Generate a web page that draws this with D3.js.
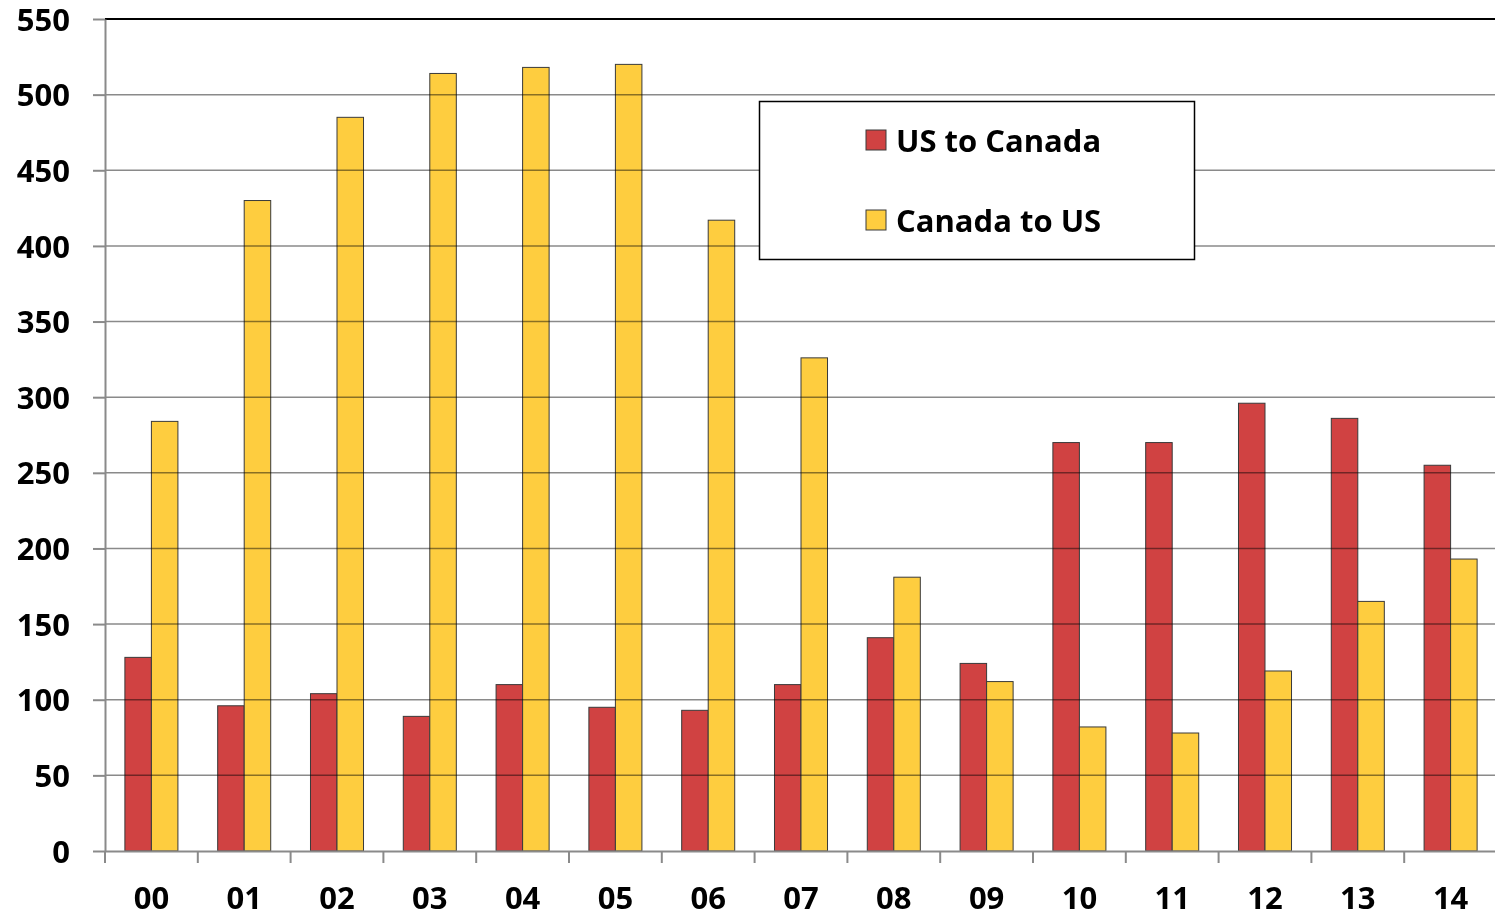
<!DOCTYPE html>
<html lang="en">
<head>
<meta charset="UTF-8">
<title>US / Canada</title>
<script src="https://cdn.jsdelivr.net/npm/d3@7"></script>
<style>
  body { margin: 0; background: #fff; }
  text { font-family: "Open Sans", Lato, sans-serif; font-weight: bold; fill: #000; }
</style>
</head>
<body>
<script>
    const years = ["00","01","02","03","04","05","06","07","08","09","10","11","12","13","14"];
    const usToCanada = [128, 96, 104, 89, 110, 95, 93, 110, 141, 124, 270, 270, 296, 286, 255];
    const canadaToUs = [284, 430, 485, 514, 518, 520, 417, 326, 181, 112, 82, 78, 119, 165, 193];
    const seriesNames = ["US to Canada", "Canada to US"];
    const yTicks = [0, 50, 100, 150, 200, 250, 300, 350, 400, 450, 500, 550];

    const colors = ["#d04242", "#fecd3f"];
    const width = 1495, height = 917;
    const mLeft = 105, mTop = 19, plotW = 1392, plotH = 832;

    const svg = d3.select("body").append("svg")
        .attr("width", width)
        .attr("height", height);

    const x = d3.scaleBand().domain(years).range([mLeft, mLeft + plotW]).paddingInner(0).paddingOuter(0);
    const inner = d3.scaleBand().domain([0, 1]).range([0, x.bandwidth()]).paddingOuter(0.75).paddingInner(0);
    const y = d3.scaleLinear().domain([0, 550]).range([mTop + plotH, mTop]);

    const data = years.map((yr, i) => ({ yr, vals: [usToCanada[i], canadaToUs[i]] }));

    // bars
    const groups = svg.append("g").selectAll("g")
        .data(data)
        .enter().append("g")
        .attr("transform", d => `translate(${x(d.yr)},0)`);

    groups.selectAll("rect")
        .data(d => d.vals.map((v, k) => ({ v, k })))
        .enter().append("rect")
        .attr("x", d => inner(d.k))
        .attr("y", d => y(d.v))
        .attr("width", inner.bandwidth())
        .attr("height", d => y(0) - y(d.v))
        .attr("fill", d => colors[d.k])
        .attr("stroke", "#3a3a3a")
        .attr("stroke-width", 1);

    // gridlines (drawn over the bars, like the original)
    svg.append("g").selectAll("line")
        .data(yTicks.filter(t => t > 0 && t < 550))
        .enter().append("line")
        .attr("x1", mLeft).attr("x2", mLeft + plotW)
        .attr("y1", d => y(d)).attr("y2", d => y(d))
        .attr("stroke", "#8a8a8a")
        .attr("stroke-width", 1.5)
        .style("mix-blend-mode", "multiply");

    // top border
    svg.append("line")
        .attr("x1", mLeft).attr("x2", mLeft + plotW)
        .attr("y1", y(550)).attr("y2", y(550))
        .attr("stroke", "#000").attr("stroke-width", 2);

    // y axis
    const yAxis = svg.append("g")
        .attr("transform", `translate(${mLeft},0)`)
        .call(d3.axisLeft(y).tickValues(yTicks).tickSize(12).tickPadding(23).tickSizeOuter(0));
    yAxis.select(".domain").attr("stroke", "#8a8a8a").attr("stroke-width", 2);
    yAxis.selectAll(".tick line").attr("stroke", "#8a8a8a").attr("stroke-width", 2);
    yAxis.selectAll(".tick text").style("font-size", "31px").attr("dy", "0.36em");

    // x axis
    const xAxis = svg.append("g")
        .attr("transform", `translate(0,${y(0)})`)
        .call(d3.axisBottom(x).tickSize(0).tickSizeOuter(0));
    xAxis.select(".domain").attr("stroke", "#8a8a8a").attr("stroke-width", 2);
    xAxis.selectAll(".tick text").style("font-size", "31px").attr("y", 58).attr("dy", 0);

    // x tick marks at band boundaries
    svg.append("g").selectAll("line")
        .data(years)
        .enter().append("line")
        .attr("x1", d => x(d)).attr("x2", d => x(d))
        .attr("y1", y(0)).attr("y2", y(0) + 12)
        .attr("stroke", "#8a8a8a").attr("stroke-width", 2);

    // legend
    const legend = svg.append("g");
    legend.append("rect")
        .attr("x", 759.5).attr("y", 101.5)
        .attr("width", 435).attr("height", 158)
        .attr("fill", "#fff").attr("stroke", "#000").attr("stroke-width", 1.5);

    const items = legend.selectAll("g.item")
        .data(seriesNames)
        .enter().append("g")
        .attr("class", "item")
        .attr("transform", (d, i) => `translate(866,${130 + i * 80})`);
    items.append("rect")
        .attr("width", 20).attr("height", 20)
        .attr("fill", (d, i) => colors[i])
        .attr("stroke", "#3a3a3a").attr("stroke-width", 1);
    items.append("text")
        .attr("x", 30).attr("y", 22)
        .style("font-size", "31px")
        .text(d => d);
</script>
</body>
</html>
